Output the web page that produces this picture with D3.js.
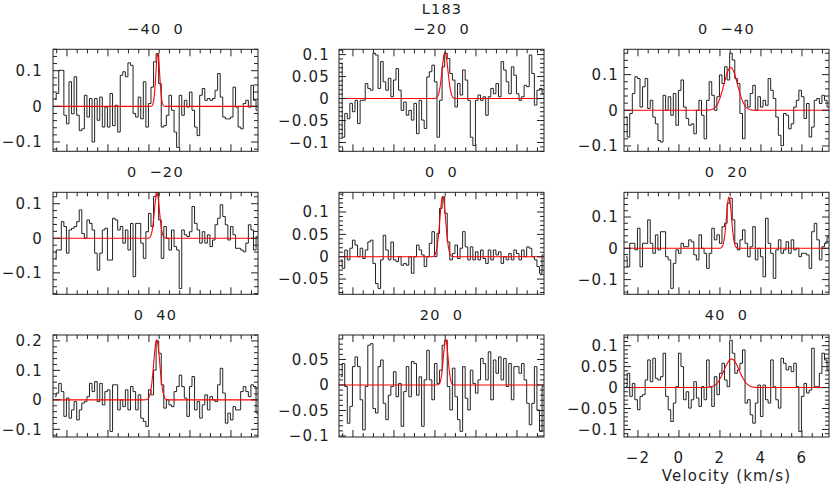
<!DOCTYPE html>
<html><head><meta charset="utf-8">
<script src="https://cdn.jsdelivr.net/npm/d3@7"></script>
<style>
html,body{margin:0;padding:0;background:#fff;}
svg{display:block;font-family:"DejaVu Sans",sans-serif;}
</style></head><body>
<svg id="chart" width="830" height="488"></svg>
<script>
// ---------------- data ----------------
const sourceName = "L183";
const offsets = ["\u221240  0", "\u221220  0", "0  \u221240", "0  \u221220", "0  0", "0  20", "0  40", "20  0", "40  0"];
const xTickLabels = [-2, 0, 2, 4, 6];
const xLabel = "Velocity (km/s)";
const vStart = -2.65, dv = 0.125;   // channel grid (km/s)

const spec1 = [0.022, 0.036, 0.101, 0.101, -0.025, -0.049, 0.069, -0.021, 0.083, -0.025,
-0.068, -0.063, 0.031, -0.030, 0.022, -0.100, 0.022, -0.039, 0.026, -0.058,
-0.002, -0.058, 0.036, -0.054, 0.003, -0.072, 0.087, 0.097, 0.083, 0.122,
0.115, -0.020, -0.030, 0.026, -0.035, 0.069, -0.058, 0.008, 0.054, 0.125, 0.148,
0.064, -0.058, -0.054, -0.025, 0.031, -0.011, -0.072, -0.115, 0.031, -0.025,
0.017, -0.002, 0.040, -0.011, -0.058, -0.082, 0.031, 0.050, 0.017, 0.022,
0.017, 0.022, 0.045, 0.092, 0.026, -0.030, -0.035, -0.035, -0.030, 0.054,
-0.002, -0.058, -0.063, 0.008, 0.017, -0.002, 0.059, 0.017, -0.011];
const spec2 = [0.080, -0.088, -0.034, -0.046, -0.011, -0.030, -0.004, -0.057, -0.004, -0.004,
0.034, 0.023, 0.019, 0.103, 0.099, 0.023, 0.084, 0.038, 0.019, 0.046,
0.004, 0.042, 0.068, 0.019, -0.027, -0.008, -0.038, -0.027, -0.049, -0.011,
-0.080, -0.004, -0.049, -0.068, 0.049, 0.061, 0.076, 0.038, -0.088, -0.004,
0.072, 0.103, 0.091, 0.057, 0.042, -0.019, 0.034, 0.008, 0.065, 0.042,
-0.004, -0.088, -0.107, -0.004, 0.008, -0.004, 0.004, -0.038, 0.004, 0.023,
0.011, 0.034, 0.004, 0.084, 0.065, 0.038, 0.011, 0.072, 0.053, 0.011,
-0.004, 0.004, 0.030, 0.027, 0.099, 0.057, -0.015, 0.019, 0.023, 0.011, 0.000];
const spec3 = [-0.019, -0.075, -0.009, 0.047, 0.094, 0.089, 0.009, 0.066, 0.089, 0.005,
0.028, -0.019, -0.038, -0.085, -0.089, 0.042, 0.000, 0.038, -0.014, 0.047,
-0.042, 0.056, 0.085, 0.009, -0.023, -0.042, -0.038, -0.066, 0.000, 0.028,
-0.014, -0.080, 0.028, 0.080, 0.042, 0.000, 0.038, 0.099, 0.075, 0.122,
0.085, 0.160, 0.141, 0.089, 0.075, -0.009, -0.080, 0.028, 0.009, 0.047,
0.070, 0.000, 0.038, 0.009, 0.028, 0.014, 0.089, 0.056, 0.033, -0.019,
-0.070, -0.099, -0.009, -0.014, -0.052, -0.038, 0.009, 0.028, 0.056, 0.038,
-0.023, 0.019, -0.075, -0.047, 0.028, 0.033, 0.019, 0.042, 0.028, 0.009, -0.009];
const spec4 = [-0.058, -0.034, -0.034, 0.048, 0.034, -0.043, 0.024, 0.029, 0.034, 0.048,
0.082, 0.014, 0.000, 0.053, 0.043, 0.024, -0.043, -0.092, -0.043, 0.024,
0.029, -0.063, -0.063, 0.058, 0.053, 0.024, 0.034, -0.014, 0.024, -0.034,
0.043, -0.111, 0.043, 0.043, -0.014, -0.058, 0.019, 0.072, 0.034, 0.121,
0.133, 0.053, -0.058, 0.034, 0.000, -0.034, 0.024, -0.024, -0.034, -0.145,
0.024, 0.010, 0.005, 0.019, 0.092, 0.043, 0.024, -0.014, 0.019, -0.014,
0.010, -0.024, -0.005, 0.039, 0.058, 0.097, 0.063, 0.039, -0.005, 0.034,
0.010, -0.029, -0.029, -0.034, -0.039, -0.014, 0.039, 0.024, -0.034, 0.005];
const spec5 = [-0.007, -0.026, 0.015, -0.007, 0.019, 0.037, 0.026, 0.000, 0.019, -0.004,
0.015, 0.033, 0.037, -0.015, -0.060, -0.071, -0.007, 0.048, 0.015, -0.007,
0.033, -0.007, -0.011, 0.000, -0.019, -0.015, -0.019, 0.000, -0.037, 0.000,
0.026, 0.015, 0.004, -0.022, 0.000, 0.030, 0.056, 0.000, 0.052, 0.108,
0.134, 0.097, 0.033, -0.007, 0.007, 0.026, -0.004, 0.019, 0.056, 0.022,
-0.007, 0.022, -0.007, 0.011, -0.007, 0.015, -0.004, -0.015, 0.015, -0.007,
0.015, 0.004, 0.011, -0.015, 0.000, -0.007, 0.007, -0.007, 0.015, 0.007,
-0.007, 0.015, 0.000, 0.022, 0.019, 0.000, -0.007, -0.022, -0.037, 0.004];
const spec6 = [-0.027, -0.059, 0.016, 0.016, -0.005, 0.064, -0.059, 0.016, 0.016, 0.091,
0.016, -0.016, 0.043, -0.005, 0.053, 0.053, -0.027, -0.037, -0.128, -0.048,
-0.005, -0.016, 0.016, 0.005, 0.005, 0.027, 0.021, -0.021, -0.037, 0.043,
0.000, -0.016, -0.064, -0.016, 0.064, 0.027, 0.043, 0.016, 0.069, 0.080,
0.144, 0.160, 0.091, 0.016, -0.005, 0.027, 0.059, 0.016, -0.027, 0.005,
0.069, -0.037, 0.000, -0.027, -0.091, 0.096, 0.016, -0.016, -0.096, -0.005,
0.027, -0.016, -0.005, 0.021, -0.016, 0.027, -0.005, 0.000, -0.027, -0.016,
-0.016, -0.021, -0.064, 0.053, 0.080, 0.027, -0.037, 0.005, 0.016, 0.037, -0.005];
const spec7 = [0.011, 0.023, 0.056, 0.028, -0.056, 0.006, -0.062, -0.034, -0.006, -0.068,
-0.034, -0.011, -0.006, 0.011, 0.056, 0.028, 0.062, -0.006, 0.056, -0.017,
0.028, 0.034, -0.107, 0.051, 0.051, -0.034, 0.000, -0.023, 0.034, -0.034,
0.045, 0.028, -0.034, 0.017, -0.062, -0.073, -0.090, 0.034, 0.017, 0.101,
0.200, 0.158, 0.051, -0.028, 0.000, -0.017, -0.023, 0.028, 0.045, 0.084,
0.045, 0.006, -0.056, 0.045, 0.079, -0.034, -0.006, -0.062, -0.017, 0.017,
-0.034, 0.011, 0.000, -0.006, 0.051, 0.107, 0.023, -0.079, -0.045, -0.068,
-0.023, -0.034, -0.034, 0.028, 0.045, 0.028, 0.011, 0.051, 0.045, -0.045, 0.056];
const spec8 = [0.016, 0.042, -0.003, -0.075, -0.042, 0.036, 0.055, 0.036, -0.029, -0.088,
-0.003, 0.078, 0.081, -0.046, -0.055, 0.036, 0.049, -0.036, -0.068, -0.020,
-0.003, 0.026, -0.023, 0.003, -0.081, -0.013, 0.036, -0.023, 0.046, 0.042,
-0.020, 0.016, -0.081, 0.010, 0.068, 0.010, -0.029, 0.042, 0.003, 0.029,
0.078, 0.088, -0.003, -0.049, 0.033, -0.023, -0.068, -0.091, 0.036, -0.026,
-0.049, 0.029, 0.003, -0.016, 0.010, 0.052, 0.042, 0.010, 0.065, -0.029,
0.049, 0.023, 0.055, 0.010, 0.052, -0.003, 0.042, -0.029, 0.036, 0.036,
0.023, 0.042, 0.010, -0.036, -0.078, -0.036, 0.036, -0.049, -0.091, -0.003];
const spec9 = [0.002, 0.034, -0.021, 0.010, -0.029, -0.053, -0.021, -0.017, 0.018, 0.066,
0.014, 0.070, 0.022, 0.018, 0.026, 0.082, -0.021, -0.053, -0.081, -0.037,
0.002, 0.082, 0.050, -0.029, -0.010, -0.049, -0.029, 0.014, -0.025, -0.045,
0.002, -0.029, 0.066, 0.002, -0.045, 0.026, -0.017, 0.034, 0.058, 0.018,
0.002, 0.113, 0.082, 0.034, 0.042, 0.058, 0.090, -0.037, -0.029, -0.065,
-0.085, -0.037, 0.006, -0.069, 0.006, -0.029, -0.037, 0.066, 0.002, -0.029,
-0.049, 0.070, 0.058, 0.042, 0.050, 0.038, 0.058, 0.002, -0.105, -0.021,
0.010, -0.013, -0.006, 0.094, 0.002, 0.002, 0.034, 0.082, 0.066, 0.042, 0.050, 0.058];
const spectra = [spec1, spec2, spec3, spec4, spec5, spec6, spec7, spec8, spec9];

// Gaussian fits: centre (km/s), peak (K), sigma (km/s)
const fitCenter = [2.43, 2.49, 2.525, 2.39, 2.38, 2.44, 2.38, 2.525, 2.57];
const fitAmp    = [0.148, 0.105, 0.120, 0.130, 0.134, 0.163, 0.203, 0.089, 0.068];
const fitSigma  = [0.095, 0.145, 0.33, 0.125, 0.145, 0.125, 0.15, 0.115, 0.37];

// axis ranges
const xDomain = [-2.68, 7.32];
const yLow  = [-0.126, -0.120, -0.115, -0.162, -0.084, -0.147, -0.126, -0.102, -0.118];
const yHigh = [0.160, 0.112, 0.171, 0.133, 0.144, 0.179, 0.220, 0.098, 0.1255];
const yMajor = [0.1, 0.05, 0.1, 0.1, 0.05, 0.1, 0.1, 0.05, 0.05];

// ---------------- layout ----------------
const colX = [53, 339, 624], rowY = [49.3, 192.3, 335];
const W = 205, H = 102;
const labelGap = [10, 9, 5];
const majLen = 7, minLen = 4;
const txtColor = "#1e1e1e";

const svg = d3.select("#chart");
const fmt = v => { const s = String(+v.toFixed(3)); return s.replace("-", "\u2212"); };
function ticksFor(lo, hi, step) {
  const out = [];
  const k0 = Math.ceil(lo / step - 1e-9), k1 = Math.floor(hi / step + 1e-9);
  for (let k = k0; k <= k1; k++) out.push(+(k * step).toFixed(6));
  return out;
}

svg.append("text").attr("x", 442).attr("y", 13.5).attr("text-anchor", "middle")
  .attr("font-size", 14.5).attr("letter-spacing", 1.2).attr("fill", txtColor).text(sourceName);

spectra.forEach((spec, p) => {
  const c = p % 3, r = Math.floor(p / 3);
  const x0 = colX[c], y0 = rowY[r];
  const x = d3.scaleLinear().domain(xDomain).range([x0, x0 + W]);
  const y = d3.scaleLinear().domain([yLow[p], yHigh[p]]).range([y0 + H, y0]);
  const g = svg.append("g");

  const clipId = "clip" + p;
  svg.append("clipPath").attr("id", clipId).append("rect")
    .attr("x", x0).attr("y", y0).attr("width", W).attr("height", H);

  // spectrum (histogram style)
  const pts = spec.map((v, i) => [vStart + (i + 0.5) * dv, v]);
  g.append("path").attr("clip-path", `url(#${clipId})`)
    .attr("d", d3.line().x(d => x(d[0])).y(d => y(d[1])).curve(d3.curveStep)(pts))
    .attr("fill", "none").attr("stroke", "#222").attr("stroke-width", 1);

  // gaussian fit
  const fx = d3.range(0, 601).map(i => xDomain[0] + i * (xDomain[1] - xDomain[0]) / 600);
  const fit = fx.map(v => [v, fitAmp[p] * Math.exp(-0.5 * Math.pow((v - fitCenter[p]) / fitSigma[p], 2))]);
  g.append("path").attr("clip-path", `url(#${clipId})`)
    .attr("d", d3.line().x(d => x(d[0])).y(d => y(d[1]))(fit))
    .attr("fill", "none").attr("stroke", "#ff0000").attr("stroke-width", 1.1);

  // frame
  g.append("rect").attr("x", x0).attr("y", y0).attr("width", W).attr("height", H)
    .attr("fill", "none").attr("stroke", "#222").attr("stroke-width", 1);

  // x ticks (top and bottom)
  ticksFor(xDomain[0], xDomain[1], 0.5).forEach(v => {
    const isMaj = Math.abs(v / 2 - Math.round(v / 2)) < 1e-6;
    const L = isMaj ? majLen : minLen, px = x(v);
    g.append("line").attr("x1", px).attr("x2", px).attr("y1", y0).attr("y2", y0 + L)
      .attr("stroke", "#222").attr("stroke-width", 1);
    g.append("line").attr("x1", px).attr("x2", px).attr("y1", y0 + H).attr("y2", y0 + H - L)
      .attr("stroke", "#222").attr("stroke-width", 1);
  });
  // y ticks (left and right)
  const minor = yMajor[p] / 5;
  ticksFor(yLow[p], yHigh[p], minor).forEach(v => {
    const isMaj = Math.abs(v / yMajor[p] - Math.round(v / yMajor[p])) < 1e-6;
    const L = isMaj ? majLen : minLen, py = y(v);
    g.append("line").attr("x1", x0).attr("x2", x0 + L).attr("y1", py).attr("y2", py)
      .attr("stroke", "#222").attr("stroke-width", 1);
    g.append("line").attr("x1", x0 + W).attr("x2", x0 + W - L).attr("y1", py).attr("y2", py)
      .attr("stroke", "#222").attr("stroke-width", 1);
  });
  // y tick labels
  ticksFor(yLow[p], yHigh[p], yMajor[p]).forEach(v => {
    g.append("text").attr("x", x0 - labelGap[c]).attr("y", y(v)).attr("dy", "0.36em")
      .attr("text-anchor", "end").attr("font-size", 15).attr("letter-spacing", 1.2)
      .attr("fill", txtColor).text(fmt(v));
  });
  // panel title
  g.append("text").attr("x", x0 + W / 2).attr("y", y0 - 15).attr("text-anchor", "middle")
    .attr("font-size", 14.5).attr("letter-spacing", 1.3).attr("fill", txtColor)
    .style("white-space", "pre").text(offsets[p]);

  // x tick labels + axis title only on last panel
  if (p === 8) {
    xTickLabels.forEach(v => {
      g.append("text").attr("x", x(v)).attr("y", y0 + H + 25.5).attr("text-anchor", "middle")
        .attr("font-size", 15).attr("letter-spacing", 1.2).attr("fill", txtColor).text(fmt(v));
    });
    g.append("text").attr("x", x0 + W / 2).attr("y", y0 + H + 43.5).attr("text-anchor", "middle")
      .attr("font-size", 15).attr("letter-spacing", 1.2).attr("fill", txtColor).text(xLabel);
  }
});
</script></body></html>
